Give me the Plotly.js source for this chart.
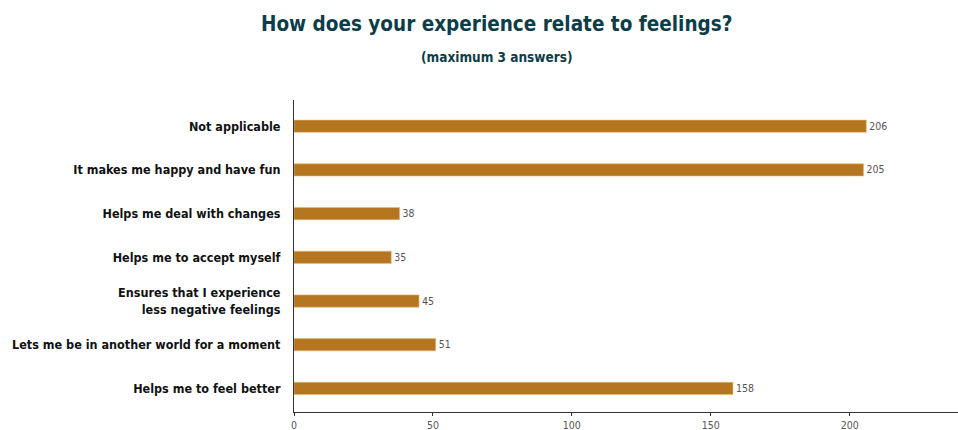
<!DOCTYPE html>
<html><head><meta charset="utf-8">
<script src="https://cdn.plot.ly/plotly-3.0.1.min.js"></script>
<style>html,body{margin:0;padding:0;background:#fff}#chart{width:958px;height:430px}</style>
</head><body><div id="chart"></div>
<script>
const categories = [
  "Not applicable",
  "It makes me happy and have fun",
  "Helps me deal with changes",
  "Helps me to accept myself",
  "Ensures that I experience<br>less negative feelings",
  "Lets me be in another world for a moment",
  "Helps me to feel better"
];
const values = [206, 205, 38, 35, 45, 51, 158];
const xTicks = [0, 50, 100, 150, 200];
const titleText = "How does your experience relate to feelings?";
const subtitleText = "(maximum 3 answers)";

const FONT = "'DejaVu Sans Condensed', 'Liberation Sans Narrow', sans-serif";

Plotly.newPlot('chart', [{
  type: 'bar',
  orientation: 'h',
  y: categories,
  x: values,
  width: 0.28,
  marker: {color: '#b5761f', line: {color: '#e8b878', width: 0.6}},
  text: values.map(String),
  textposition: 'outside',
  textfont: {family: FONT, size: 12, color: '#555'},
  cliponaxis: false,
  hoverinfo: 'none'
}], {
  width: 958, height: 430,
  margin: {l: 294, r: 0, t: 100, b: 18},
  paper_bgcolor: '#fff', plot_bgcolor: '#fff',
  annotations: [
    {text: '<b>' + titleText + '</b>', xref: 'paper', yref: 'paper', x: 0.305, y: 1, xanchor: 'center', yanchor: 'middle',
     yshift: 76, showarrow: false, font: {family: FONT, size: 20.5, color: '#0d3d48'}},
    {text: '<b>' + subtitleText + '</b>', xref: 'paper', yref: 'paper', x: 0.305, y: 1, xanchor: 'center', yanchor: 'middle',
     yshift: 43, showarrow: false, font: {family: FONT, size: 13.5, color: '#0d3d48'}}
  ],
  xaxis: {
    range: [0, 239], tickvals: xTicks, ticktext: xTicks.map(String),
    showgrid: false, zeroline: false, showline: true, linecolor: '#333', linewidth: 1,
    ticks: 'outside', ticklen: 3, tickcolor: '#333', ticklabelstandoff: 0,
    tickfont: {family: FONT, size: 10.5, color: '#555'}
  },
  yaxis: {
    type: 'category', range: [6.54, -0.6],
    showgrid: false, zeroline: false, showline: true, linecolor: '#333', linewidth: 1,
    ticks: '', ticklabelstandoff: 10,
    tickfont: {family: FONT, size: 12.5, color: '#111', weight: 'bold'}
  },
  showlegend: false
}, {displayModeBar: false, staticPlot: true});
</script></body></html>
